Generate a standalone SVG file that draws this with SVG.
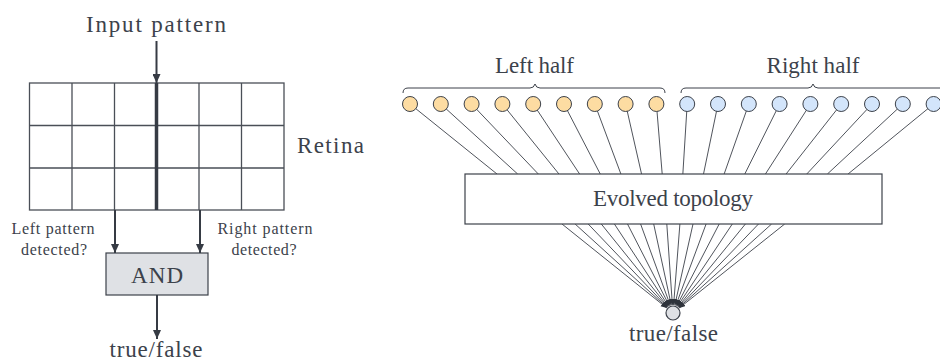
<svg xmlns="http://www.w3.org/2000/svg" width="940" height="362" viewBox="0 0 940 362" font-family="'Liberation Serif', serif">
  <style>
    text { font-family: "Liberation Serif", serif; fill: #3c424b; }
    .big { font-size: 23px; }
    .small { font-size: 16px; }
    .grid { fill: none; stroke: #4a4f57; stroke-width: 1.3; }
    .arrow { stroke: #363b44; stroke-width: 2; fill: none; }
    .thin { stroke: #3c414a; stroke-width: 0.9; fill: none; }
    .in-left { fill: #fddca2; stroke: #3c414a; stroke-width: 1; }
    .in-right { fill: #d3e5fb; stroke: #3c414a; stroke-width: 1; }
    .box { fill: #ffffff; stroke: #3c414a; stroke-width: 1.2; }
    .gate { fill: #dfe1e5; stroke: #3c414a; stroke-width: 1.2; }
    .brace { fill: none; stroke: #3c414a; stroke-width: 1; }
  </style>
  <defs>
    <marker id="head" markerUnits="userSpaceOnUse" markerWidth="10" markerHeight="8" refX="9" refY="4" orient="auto">
      <path d="M0,0 L9,4 L0,8 z" fill="#363b44"/>
    </marker>
    <marker id="tip" markerUnits="userSpaceOnUse" markerWidth="7" markerHeight="6" refX="6" refY="2.5" orient="auto">
      <path d="M0,0 L6,2.5 L0,5 z" fill="#2f343c"/>
    </marker>
  </defs>

  <!-- Left: retina with AND of two detectors -->
  <g id="input-label">
    <text class="big" x="156" y="32" text-anchor="middle" textLength="140">Input pattern</text>
  </g>

  <g id="retina">
    <rect class="grid" x="29.5" y="83" width="254.5" height="127"/>
    <path class="grid" d="M72,83 V210 M114.5,83 V210 M199,83 V210 M241.5,83 V210 M29.5,125.5 H284 M29.5,168 H284"/>
    <line x1="156.5" y1="83" x2="156.5" y2="210" stroke="#363b44" stroke-width="3.5"/>
    <text class="big" x="297" y="153" textLength="67">Retina</text>
  </g>

  <g id="left-label">
    <text class="small" x="53" y="234" text-anchor="middle" textLength="83">Left pattern</text>
    <text class="small" x="54" y="255" text-anchor="middle" textLength="66">detected?</text>
  </g>
  <g id="right-label">
    <text class="small" x="265" y="234" text-anchor="middle" textLength="95">Right pattern</text>
    <text class="small" x="264" y="255" text-anchor="middle" textLength="65">detected?</text>
  </g>

  <g id="and-gate">
    <rect class="gate" x="106" y="253" width="102" height="42"/>
    <text class="big" x="157" y="283" text-anchor="middle" textLength="52">AND</text>
  </g>

  <g id="left-output">
    <text class="big" x="156" y="357" text-anchor="middle" textLength="93">true/false</text>
  </g>

  <g id="left-connectors">
    <line class="arrow" x1="156.5" y1="41" x2="156.5" y2="83" marker-end="url(#head)"/>
    <line class="arrow" x1="115" y1="210" x2="115" y2="253" marker-end="url(#head)"/>
    <line class="arrow" x1="200" y1="210" x2="200" y2="253" marker-end="url(#head)"/>
    <line class="arrow" x1="157" y1="295" x2="157" y2="339" marker-end="url(#head)"/>
  </g>

  <!-- Right: inputs feeding an evolved network -->
  <g id="half-labels">
    <path class="brace" d="M403,93 Q403,88 408,88 L530,88 Q534,88 535,84 Q536,88 540,88 L660,88 Q665,88 665,93"/>
    <text class="big" x="534.5" y="73" text-anchor="middle" textLength="79">Left half</text>
    <path class="brace" d="M681,93 Q681,88 686,88 L808,88 Q812,88 813,84 Q814,88 818,88 L940,88 Q945,88 945,93"/>
    <text class="big" x="813" y="73" text-anchor="middle" textLength="93">Right half</text>
  </g>

  <g id="input-connectors">
    <line class="thin" x1="410" y1="104" x2="497" y2="174"/>
    <line class="thin" x1="440.8" y1="104" x2="517.65" y2="174"/>
    <line class="thin" x1="471.6" y1="104" x2="538.3" y2="174"/>
    <line class="thin" x1="502.4" y1="104" x2="558.95" y2="174"/>
    <line class="thin" x1="533.2" y1="104" x2="579.6" y2="174"/>
    <line class="thin" x1="564" y1="104" x2="600.25" y2="174"/>
    <line class="thin" x1="594.8" y1="104" x2="620.9" y2="174"/>
    <line class="thin" x1="625.6" y1="104" x2="641.55" y2="174"/>
    <line class="thin" x1="656.4" y1="104" x2="662.2" y2="174"/>
    <line class="thin" x1="687.2" y1="104" x2="682.85" y2="174"/>
    <line class="thin" x1="718" y1="104" x2="703.5" y2="174"/>
    <line class="thin" x1="748.8" y1="104" x2="724.15" y2="174"/>
    <line class="thin" x1="779.6" y1="104" x2="744.8" y2="174"/>
    <line class="thin" x1="810.4" y1="104" x2="765.45" y2="174"/>
    <line class="thin" x1="841.2" y1="104" x2="786.1" y2="174"/>
    <line class="thin" x1="872" y1="104" x2="806.75" y2="174"/>
    <line class="thin" x1="902.8" y1="104" x2="827.4" y2="174"/>
    <line class="thin" x1="933.6" y1="104" x2="848.05" y2="174"/>
  </g>

  <g id="output-connectors">
    <line class="thin" x1="562" y1="224" x2="666.8" y2="308" marker-end="url(#tip)"/>
    <line class="thin" x1="575.1" y1="224" x2="667.1" y2="307.6" marker-end="url(#tip)"/>
    <line class="thin" x1="588.2" y1="224" x2="667.5" y2="307.2" marker-end="url(#tip)"/>
    <line class="thin" x1="601.3" y1="224" x2="668" y2="306.8" marker-end="url(#tip)"/>
    <line class="thin" x1="614.4" y1="224" x2="668.6" y2="306.3" marker-end="url(#tip)"/>
    <line class="thin" x1="627.5" y1="224" x2="669.4" y2="305.9" marker-end="url(#tip)"/>
    <line class="thin" x1="640.6" y1="224" x2="670.3" y2="305.5" marker-end="url(#tip)"/>
    <line class="thin" x1="653.7" y1="224" x2="671.3" y2="305.2" marker-end="url(#tip)"/>
    <line class="thin" x1="666.8" y1="224" x2="672.4" y2="305" marker-end="url(#tip)"/>
    <line class="thin" x1="679.9" y1="224" x2="673.6" y2="305" marker-end="url(#tip)"/>
    <line class="thin" x1="693" y1="224" x2="674.8" y2="305.2" marker-end="url(#tip)"/>
    <line class="thin" x1="706.1" y1="224" x2="675.8" y2="305.5" marker-end="url(#tip)"/>
    <line class="thin" x1="719.2" y1="224" x2="676.7" y2="305.9" marker-end="url(#tip)"/>
    <line class="thin" x1="732.3" y1="224" x2="677.4" y2="306.3" marker-end="url(#tip)"/>
    <line class="thin" x1="745.4" y1="224" x2="678" y2="306.8" marker-end="url(#tip)"/>
    <line class="thin" x1="758.5" y1="224" x2="678.5" y2="307.2" marker-end="url(#tip)"/>
    <line class="thin" x1="771.6" y1="224" x2="678.9" y2="307.6" marker-end="url(#tip)"/>
    <line class="thin" x1="784.7" y1="224" x2="679.3" y2="308" marker-end="url(#tip)"/>
  </g>

  <g id="inputs-left">
    <circle class="in-left" cx="410" cy="104" r="7.5"/>
    <circle class="in-left" cx="440.8" cy="104" r="7.5"/>
    <circle class="in-left" cx="471.6" cy="104" r="7.5"/>
    <circle class="in-left" cx="502.4" cy="104" r="7.5"/>
    <circle class="in-left" cx="533.2" cy="104" r="7.5"/>
    <circle class="in-left" cx="564" cy="104" r="7.5"/>
    <circle class="in-left" cx="594.8" cy="104" r="7.5"/>
    <circle class="in-left" cx="625.6" cy="104" r="7.5"/>
    <circle class="in-left" cx="656.4" cy="104" r="7.5"/>
  </g>
  <g id="inputs-right">
    <circle class="in-right" cx="687.2" cy="104" r="7.5"/>
    <circle class="in-right" cx="718" cy="104" r="7.5"/>
    <circle class="in-right" cx="748.8" cy="104" r="7.5"/>
    <circle class="in-right" cx="779.6" cy="104" r="7.5"/>
    <circle class="in-right" cx="810.4" cy="104" r="7.5"/>
    <circle class="in-right" cx="841.2" cy="104" r="7.5"/>
    <circle class="in-right" cx="872" cy="104" r="7.5"/>
    <circle class="in-right" cx="902.8" cy="104" r="7.5"/>
    <circle class="in-right" cx="933.6" cy="104" r="7.5"/>
  </g>

  <g id="evolved-topology">
    <rect class="box" x="465" y="174" width="417" height="50"/>
    <text class="big" x="673" y="206" text-anchor="middle" textLength="160">Evolved topology</text>
  </g>

  <g id="output-node">
    <circle class="gate" cx="673" cy="313" r="7"/>
    <text class="big" x="673.5" y="341" text-anchor="middle" textLength="89">true/false</text>
  </g>
</svg>
